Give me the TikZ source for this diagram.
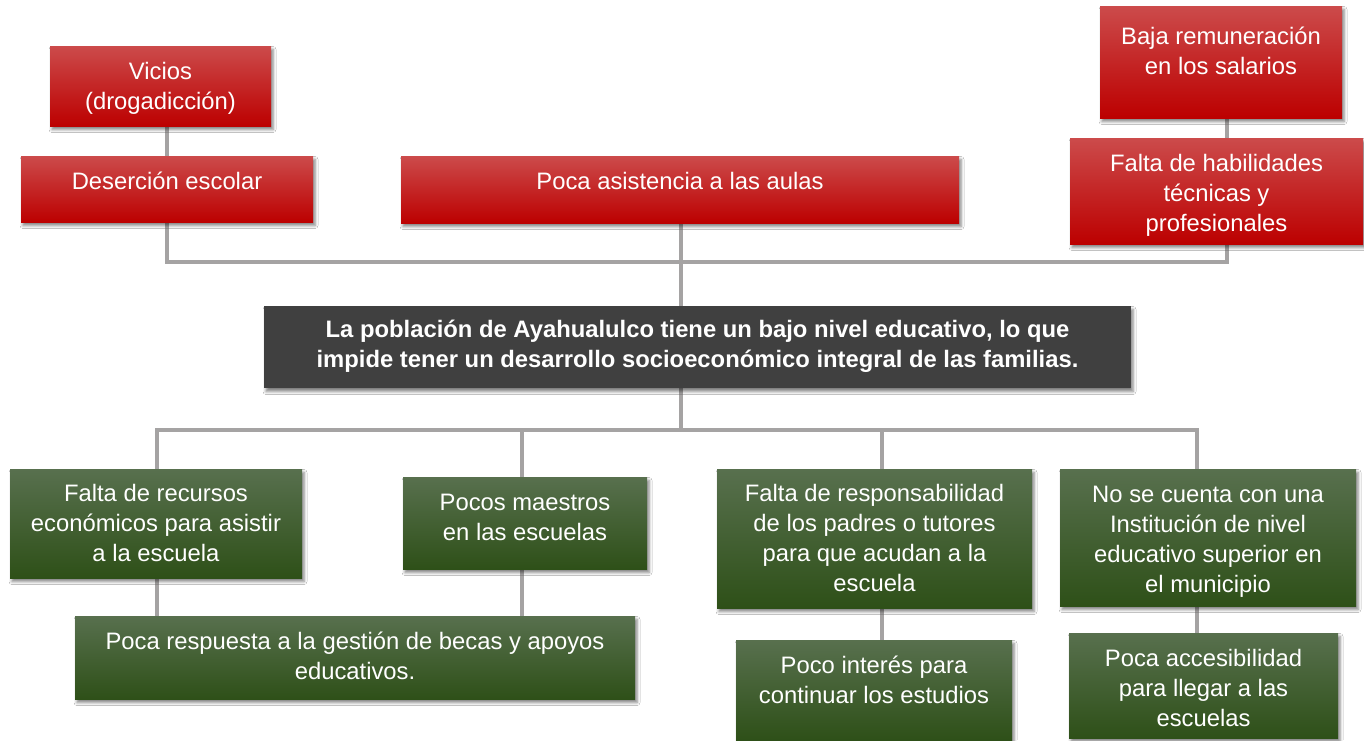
\documentclass[tikz,border=0pt]{standalone}
\usepackage{fontspec}
\setmainfont{Liberation Sans}
\usetikzlibrary{shadows.blur,backgrounds}
\definecolor{redtop}{HTML}{CC4B4B}
\definecolor{redmid}{HTML}{C20000}
\definecolor{redbot}{HTML}{BC0000}
\definecolor{grtop}{HTML}{58704E}
\definecolor{grmid}{HTML}{375B22}
\definecolor{grbot}{HTML}{2E5018}
\definecolor{darkbox}{HTML}{404040}
\definecolor{lineg}{HTML}{A5A3A3}
\newcommand\bx[1]{\begin{tabular}[b]{@{}c@{}}#1\end{tabular}}
\begin{document}
\begin{tikzpicture}[x=1pt,y=-1pt,
 box/.style={rectangle, inner sep=0pt, text=white,
   font=\fontsize{23.8}{30}\selectfont,
   blur shadow={shadow xshift=2pt, shadow yshift=-3.5pt, shadow blur radius=3pt, shadow opacity=50}},
 redbox/.style={box, top color=redtop, middle color=redmid, bottom color=redbot},
 greenbox/.style={box, top color=grtop, middle color=grmid, bottom color=grbot},
 mainbox/.style={box, fill=darkbox, font=\fontsize{23.8}{30}\selectfont\bfseries},
 link/.style={draw=lineg, line width=4.8pt, line cap=rect, line join=miter}]
\useasboundingbox (0,0) rectangle (1364,740);

% red boxes
\node[redbox, minimum width=221pt, minimum height=80pt, text depth=5pt] (vic) at (160.5,86) {\bx{Vicios\\(drogadicción)}};
\node[redbox, minimum width=292pt, minimum height=66pt, text depth=21pt] (des) at (167,189) {\bx{Deserción escolar}};
\node[redbox, minimum width=558pt, minimum height=67pt, text depth=22pt] (pa) at (680,189.5) {\bx{Poca asistencia a las aulas}};
\node[redbox, minimum width=242pt, minimum height=112pt, text depth=26pt] (baja) at (1221,62) {\bx{Baja remuneración\\en los salarios}};
\node[redbox, minimum width=293pt, minimum height=106pt, text depth=1pt] (hab) at (1216.5,191) {\bx{Falta de habilidades\\técnicas y\\profesionales}};

% central box
\node[mainbox, minimum width=867pt, minimum height=82pt, text depth=10pt] (main) at (697.5,347) {\bx{La población de Ayahualulco tiene un bajo nivel educativo, lo que\\impide tener un desarrollo socioeconómico integral de las familias.}};

% green boxes
\node[greenbox, minimum width=292pt, minimum height=109pt, text depth=5pt] (fr) at (156,523.5) {\bx{Falta de recursos\\económicos para asistir\\a la escuela}};
\node[greenbox, minimum width=244pt, minimum height=92pt, text depth=17pt] (pm) at (525,523) {\bx{Pocos maestros\\en las escuelas}};
\node[greenbox, minimum width=560pt, minimum height=83pt, text depth=8pt] (pr) at (355,657.5) {\bx{Poca respuesta a la gestión de becas y apoyos\\educativos.}};
\node[greenbox, minimum width=315pt, minimum height=139pt, text depth=5pt] (resp) at (874.5,538.5) {\bx{Falta de responsabilidad\\de los padres o tutores\\para que acudan a la\\escuela}};
\node[greenbox, minimum width=296pt, minimum height=137pt, text depth=2pt] (nsc) at (1208,537.5) {\bx{No se cuenta con una\\Institución de nivel\\educativo superior en\\el municipio}};
\node[greenbox, minimum width=276pt, minimum height=100pt, text depth=25pt] (pi) at (874,690) {\bx{Poco interés para\\continuar los estudios}};
\node[greenbox, minimum width=269pt, minimum height=105pt, text depth=0pt] (acc) at (1203.5,685.5) {\bx{Poca accesibilidad\\para llegar a las\\escuelas}};

% bus coordinates
\coordinate (rbus) at (1227,262);
\coordinate (mb) at (681,430);
\coordinate (c1) at (157,430);
\coordinate (c2) at (522,430);
\coordinate (c3) at (882,430);
\coordinate (c4) at (1197,430);

\begin{pgfonlayer}{background}
\fill[white] (0,0) rectangle (1364,740);
\draw[link] (vic.south -| des.north) -- (des.north);
\draw[link] (des.south) |- (rbus) -- (hab.south -| rbus);
\draw[link] (baja.south -| rbus) -- (hab.north -| rbus);
\draw[link] (pa.south -| mb) -- (main.north -| mb);
\draw[link] (main.south -| mb) -- (mb);
\draw[link] (c1) -- (c4);
\draw[link] (c1) -- (fr.north -| c1);
\draw[link] (c2) -- (pm.north -| c2);
\draw[link] (c3) -- (resp.north -| c3);
\draw[link] (c4) -- (nsc.north -| c4);
\draw[link] (fr.south -| c1) -- (pr.north -| c1);
\draw[link] (pm.south -| c2) -- (pr.north -| c2);
\draw[link] (resp.south -| c3) -- (pi.north -| c3);
\draw[link] (nsc.south -| c4) -- (acc.north -| c4);
\end{pgfonlayer}
\end{tikzpicture}
\end{document}
